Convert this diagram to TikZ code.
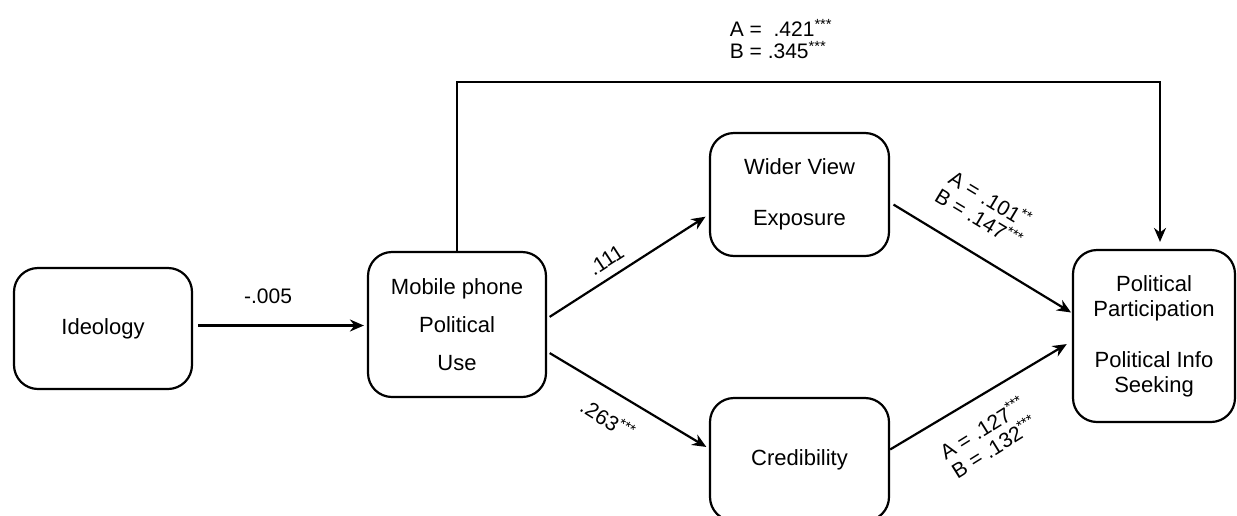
\documentclass[tikz,border=0pt]{standalone}
\usepackage{fontspec}
\setmainfont{Liberation Sans}
\usetikzlibrary{arrows.meta}

\begin{document}
\begin{tikzpicture}[x=1pt,y=-1pt,line width=2.2pt,
  var/.style={draw,rounded corners=24pt,inner sep=0pt,align=center,font=\fontsize{22}{25}\selectfont},
  coef/.style={inner sep=0pt,align=center,font=\fontsize{21}{22}\selectfont},
  effect/.style={-{Stealth[length=14pt,width=12pt]}}]
\useasboundingbox (0,0) rectangle (1237,515);
\clip (0,0) rectangle (1237,515);
% variables
\node[var,minimum width=178pt,minimum height=121pt] (ideo) at (103,328.5) {Ideology};
\node[var,minimum width=178pt,minimum height=145pt] (mobile) at (457,324.5) {Mobile phone\\[13pt]Political\\[13pt]Use};
\node[var,minimum width=179pt,minimum height=123pt] (wider) at (799.5,194.5) {Wider View\\[26pt]Exposure};
\node[var,minimum width=179pt,minimum height=123pt] (cred) at (799.5,459.5) {Credibility};
\node[var,minimum width=162pt,minimum height=172pt] (pol) at (1154,336) {Political\\Participation\\[26pt]Political Info\\Seeking};
% paths
\draw[effect,shorten <=5pt,shorten >=3pt] ([yshift=3pt]ideo.east) -- ([yshift=3pt]ideo.east -| mobile.west);
\draw[effect,shorten <=3pt,shorten >=4pt] ([yshift=6pt]mobile.east) -- ([yshift=-20pt]wider.west);
\draw[effect,shorten <=3pt,shorten >=3pt] ([yshift=-27pt]mobile.east) -- ([yshift=11pt]cred.west);
\draw[effect,shorten <=4pt,shorten >=1pt] ([yshift=-8pt]wider.east) -- ([yshift=23pt]pol.west);
\draw[effect,shorten >=6pt] ([yshift=10pt]cred.east) -- ([yshift=-5pt]pol.west);
\coordinate (top) at (0,82);
\draw[effect,shorten >=7pt] (mobile.north) -- (mobile.north |- top) -| ([xshift=6pt]pol.north);
% coefficients
\node[coef] (c1) at (268,296) {-.005};
\node[coef,rotate=33] (c2) at (606,260) {.111};
\node[coef,rotate=-32] (c3) at (608,419) {.263\textsuperscript{***}};
\node[coef,rotate=-31] (c4) at (985,208) {A = .101\textsuperscript{**}\\B = .147\textsuperscript{***}};
\node[coef,rotate=32] (c5) at (988,437) {A = .127\textsuperscript{***}\\B = .132\textsuperscript{***}};
\node[coef,align=left] (c6) at (781,39) {A =~ .421\textsuperscript{***}\\B = .345\textsuperscript{***}};
\end{tikzpicture}
\end{document}
